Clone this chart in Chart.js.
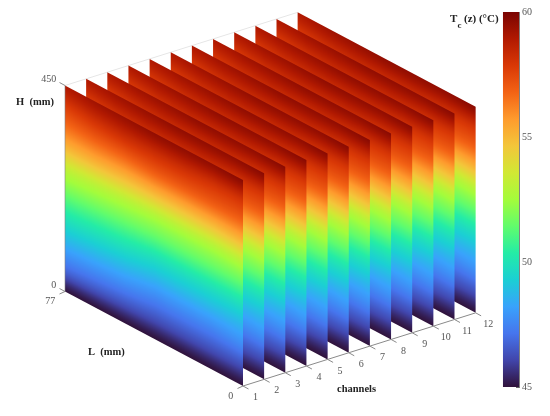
<!DOCTYPE html>
<html><head><meta charset="utf-8">
<style>html,body{margin:0;padding:0;background:#fff}#w{width:550px;height:416px}</style>
<script src="https://cdn.jsdelivr.net/npm/chart.js@4"></script>
</head><body><div id="w"><canvas id="c" width="550" height="416"></canvas></div>
<script>
const channels=[1,2,3,4,5,6,7,8,9,10,11,12];
const lengths=[0,13,26,38,51,64,77];
const heights=[0,45,90,135,180,225,270,315,360,405,450];
const tempL0 =[45,46.35,47.7,48.75,49.95,51.45,52.95,55.05,56.85,58.05,59.7];
const tempL13=[45,46.35,47.55,48.75,49.95,51.45,52.8,54.9,56.85,58.05,59.55];
const tempL26=[45,46.35,47.55,48.75,49.95,51.45,52.8,54.9,56.85,58.2,59.55];
const tempL38=[45,46.35,47.55,48.75,49.95,51.45,52.8,54.9,56.85,58.2,59.55];
const tempL51=[45,46.5,47.85,49.05,50.25,51.6,52.95,54.9,56.7,58.2,59.4];
const tempL64=[45,46.65,48,49.2,50.4,51.75,53.1,55.05,56.7,58.05,59.25];
const tempL77=[45,46.8,48.15,49.35,50.55,51.9,53.25,55.05,56.55,57.75,58.95];
const temps=[tempL0,tempL13,tempL26,tempL38,tempL51,tempL64,tempL77];
const colorTicks=[45,50,55,60];
const heightTicks=[0,450];
const lengthTicks=[77,0];
const turbo=['#30123B','#4145AB','#4675ED','#39A2FC','#1BCFD4','#24ECA6','#61FC6C','#A4FC3B','#D1E834','#F3C63A','#FE9B2D','#F36315','#D93806','#B11901','#7A0402'];

// axonometric view of (channel, L, H)
const view={x0:243,y0:386,chX:21.15,chY:-6.65,lX:-178,lY:-94.5,hY:-206};
const Lmax=77,Hmax=450;
const proj=(ch,L,H)=>({x:view.x0+(ch-1)*view.chX+L/Lmax*view.lX,
                       y:view.y0+(ch-1)*view.chY+L/Lmax*view.lY+H/Hmax*view.hY});

const rgbStops=turbo.map(h=>[1,3,5].map(i=>parseInt(h.substr(i,2),16)));
function turboRGB(f){f=Math.min(1,Math.max(0,f))*(rgbStops.length-1);const i=Math.min(rgbStops.length-2,Math.floor(f)),t=f-i;
  return rgbStops[i].map((v,k)=>v+(rgbStops[i+1][k]-v)*t);}
function seg(arr,v){let i=0;while(i<arr.length-2&&arr[i+1]<v)i++;return [i,(v-arr[i])/(arr[i+1]-arr[i])];}
// smooth reading of one column of the table between its samples
function colAt(col,j,b){const p0=col[Math.max(0,j-1)],p1=col[j],p2=col[j+1],p3=col[Math.min(col.length-1,j+2)];
  return p1+.5*b*(p2-p0+b*(2*p0-5*p1+4*p2-p3+b*(3*p1-p0-3*p2+p3)));}
function tempAt(L,H){const [i,a]=seg(lengths,L),[j,b]=seg(heights,H);
  return colAt(temps[i],j,b)*(1-a)+colAt(temps[i+1],j,b)*a;}

// one raster of T(L,H) that every slice is mapped with
const W=180,H_=208,img=document.createElement('canvas');img.width=W;img.height=H_;
(function(){const c=img.getContext('2d'),d=c.createImageData(W,H_);
  for(let y=0;y<H_;y++)for(let x=0;x<W;x++){
    const L=Lmax*(1-(x+.5)/W),H=Hmax*(1-(y+.5)/H_),rgb=turboRGB((tempAt(L,H)-45)/15),p=(y*W+x)*4;
    d.data[p]=rgb[0];d.data[p+1]=rgb[1];d.data[p+2]=rgb[2];d.data[p+3]=255;}
  c.putImageData(d,0,0);})();

const sliceData=ch=>{const a=[];lengths.forEach((L,i)=>heights.forEach((H,j)=>{a.push({...proj(ch,L,H),L,H,T:temps[i][j]});}));return a;};
const nL=lengths.length,nH=heights.length;

const gap={x:null,y:null};
const lineDs=(label,data,color,width)=>({type:'scatter',label,data,showLine:true,spanGaps:false,pointRadius:0,borderColor:color,borderWidth:width,clip:false,xAxisID:'x',yAxisID:'y'});
const chTicks=[],lTicks=[],hTicks=[];
channels.forEach(ch=>{const p=proj(ch,0,0);chTicks.push(p,{x:p.x+5.5,y:p.y+3},gap);});
lengthTicks.forEach(L=>{const p=proj(1,L,0);lTicks.push(p,{x:p.x-5.5,y:p.y+2.5},gap);});
heightTicks.forEach(H=>{const p=proj(1,Lmax,H);hTicks.push(p,{x:p.x-5.5,y:p.y-3},gap);});

const datasets=[
  lineDs('channel axis',[proj(1,0,0),proj(12,0,0)],'#8a8a8a',1),
  lineDs('channel ticks',chTicks,'#8a8a8a',1),
  lineDs('length ticks',lTicks,'#8a8a8a',1),
  lineDs('height ticks',hTicks,'#8a8a8a',1),
  lineDs('height axis',[proj(1,Lmax,0),proj(1,Lmax,Hmax)],'rgba(130,130,130,.6)',1),
  ...channels.map(ch=>({type:'scatter',label:'Channel '+ch,slice:true,data:sliceData(ch),pointRadius:0,showLine:false,xAxisID:'x',yAxisID:'y'})),
  lineDs('box edge',[proj(1,Lmax,Hmax),proj(12,Lmax,Hmax)],'#e6e6e6',1),
  {type:'bar',label:'T scale',data:[{x:511.3,y:[45,60]}],xAxisID:'x',yAxisID:'yT',barThickness:16,borderWidth:0,
   backgroundColor(ctx){const ch=ctx.chart,s=ch.scales.yT;if(!s||!ch.chartArea)return turbo[7];
     const a=s.getPixelForValue(45),b=s.getPixelForValue(60);if(!isFinite(a)||!isFinite(b))return turbo[7];
     const g=ch.ctx.createLinearGradient(0,a,0,b);
     turbo.forEach((c,i)=>g.addColorStop(i/(turbo.length-1),c));return g;}}
];

const sliceRaster={id:'sliceRaster',beforeDatasetDraw(chart,{index,meta}){
  if(!chart.data.datasets[index].slice)return;
  const pts=meta.data,at=(i,j)=>pts[i*nH+j];
  const tl=at(nL-1,nH-1),tr=at(0,nH-1),bl=at(nL-1,0);
  const c=chart.ctx;c.save();
  c.transform(tr.x-tl.x,tr.y-tl.y,bl.x-tl.x,bl.y-tl.y,tl.x,tl.y);
  c.imageSmoothingEnabled=true;c.drawImage(img,0,0,1,1);c.restore();
}};
const serif='"Liberation Serif",serif';
const labels3d={id:'labels3d',afterDraw(chart){
  const c=chart.ctx,sx=chart.scales.x,sy=chart.scales.y;
  const px=p=>({x:sx.getPixelForValue(p.x),y:sy.getPixelForValue(p.y)});
  const txt=(t,x,y,al,font,col)=>{c.font=font;c.fillStyle=col;c.textAlign=al;c.textBaseline='middle';c.fillText(t,x,y);};
  const num='10px '+serif,bold='bold 10.5px '+serif,g='#555',k='#222';
  c.save();
  channels.forEach(ch=>{const p=px(proj(ch,0,0));txt(String(ch),p.x+12.5,p.y+11.5,'center',num,g);});
  lengthTicks.forEach(L=>{const p=px(proj(1,L,0));txt(String(L),p.x-9.7,p.y+10,'right',num,g);});
  heightTicks.forEach(H=>{const p=px(proj(1,Lmax,H));txt(String(H),p.x-8.7,p.y-6,'right',num,g);});
  txt('H  (mm)',16,102,'left',bold,k);
  txt('L  (mm)',88,352,'left',bold,k);
  txt('channels',337,389,'left',bold,k);
  txt('T',450,19,'left','bold 11px '+serif,k);
  txt('c',457.5,26,'left','bold 9px '+serif,k);
  txt('(z) (°C)',464,19,'left','bold 11px '+serif,k);
  c.restore();
}};

new Chart(document.getElementById('c'),{
  data:{datasets},
  plugins:[sliceRaster,labels3d],
  options:{responsive:false,animation:false,
    layout:{padding:{top:12,bottom:29,left:0,right:0}},
    plugins:{legend:{display:false},title:{display:false},tooltip:{enabled:false}},
    events:[],
    scales:{
      x:{type:'linear',display:false,min:0,max:519,offset:false,grid:{display:false}},
      y:{type:'linear',display:false,reverse:true,min:12,max:387,position:'left'},
      yT:{type:'linear',position:'right',min:45,max:60,afterFit(s){s.width=31;},
        afterBuildTicks(s){s.ticks=colorTicks.map(value=>({value}));},
        border:{display:true,color:'#808080',width:1},
        grid:{drawOnChartArea:false,drawTicks:true,tickLength:-3,tickColor:'#666'},
        ticks:{padding:6,color:'#555',font:{family:serif,size:10},callback:v=>String(v)}}
    }
  }
});
</script></body></html>
